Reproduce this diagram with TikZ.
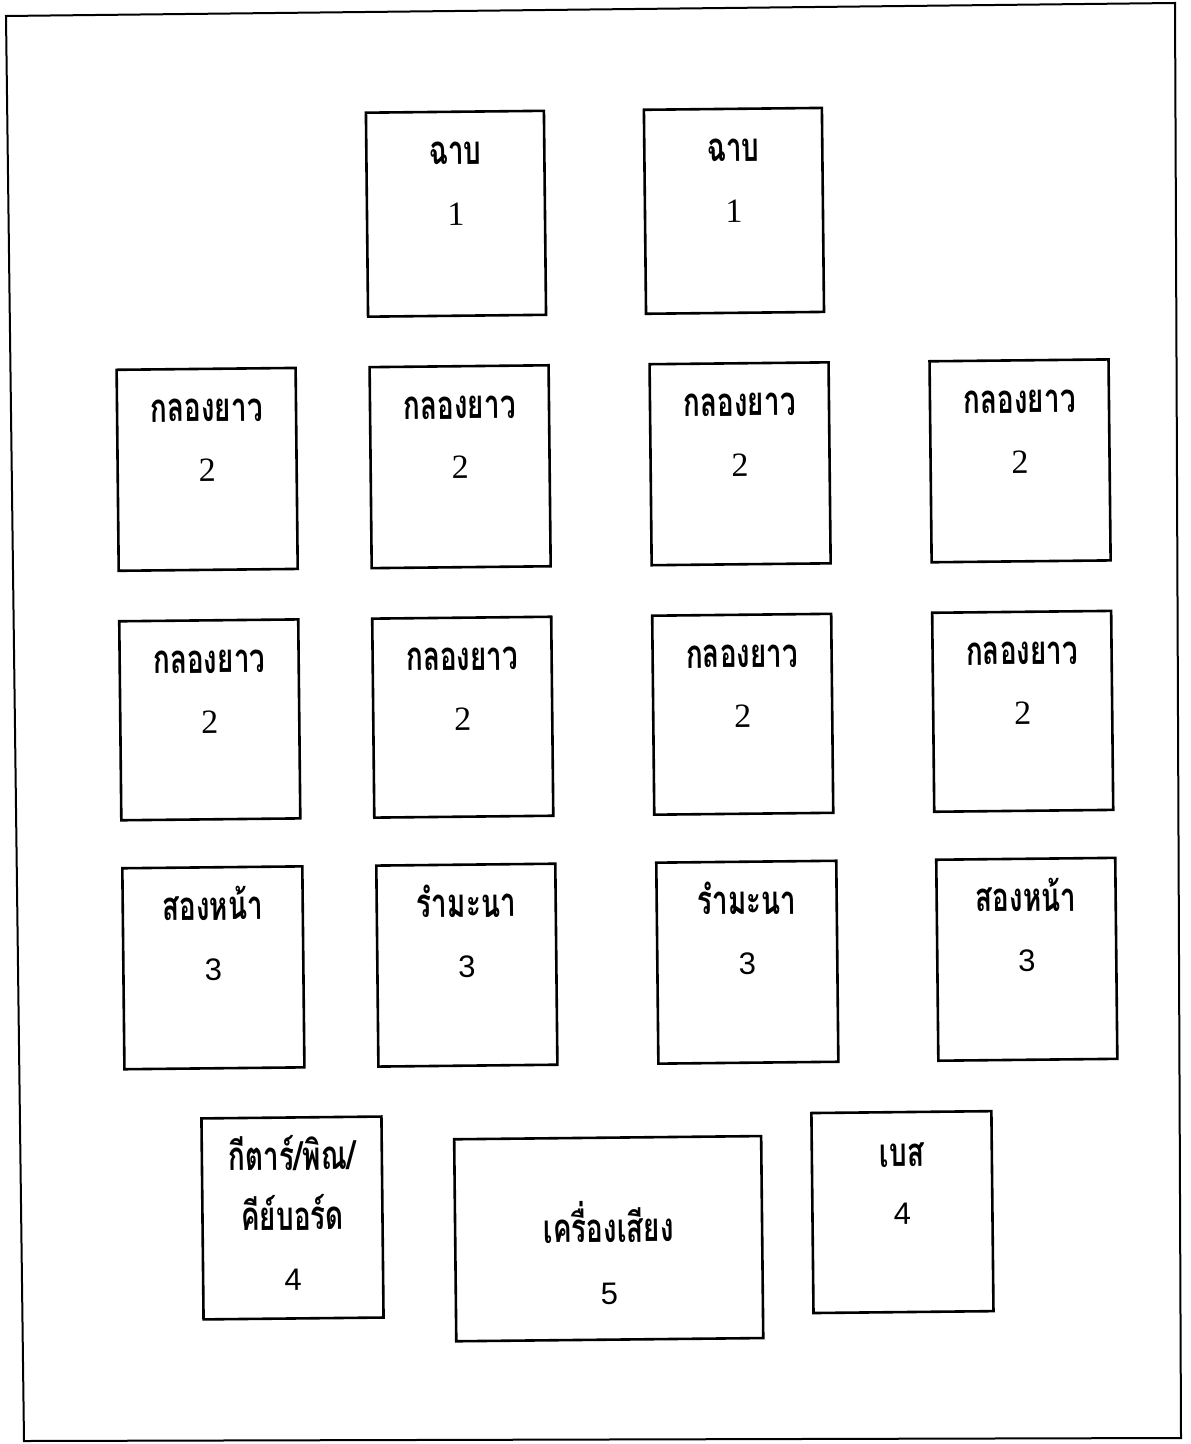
\documentclass[tikz,border=0pt]{standalone}
\usepackage{fontspec}
\setmainfont{Liberation Serif}
\newfontfamily\thaifont[Script=Thai,FakeStretch=0.7]{Loma}
\newfontfamily\digsans{Liberation Sans}
\begin{document}
\begin{tikzpicture}[x=0.5pt,y=-0.5pt,
  inst/.style={draw, line width=1.3pt, minimum width=89.5pt, minimum height=100.5pt,
    inner sep=0pt, anchor=north west, transform shape},
  frameline/.style={draw, line width=1pt, line join=miter},
  lab/.style={font=\thaifont\bfseries\fontsize{20}{22}\selectfont, inner sep=0pt, anchor=base, transform shape},
  numserif/.style={font=\fontsize{17}{19}\selectfont, inner sep=0pt, anchor=base, transform shape},
  numsans/.style={font=\digsans\fontsize{15.5}{17}\selectfont, inner sep=0pt, anchor=base, transform shape}]
\useasboundingbox (0,0) rectangle (1190,1444);
% outer frame
\coordinate (ftl) at (6,16);
\coordinate (ftr) at (1175,3);
\coordinate (fbr) at (1181,1438);
\coordinate (fbl) at (24,1441);
\draw[frameline] (ftl) -- (ftr) -- (fbr) -- (fbl) -- cycle;
\begin{scope}[rotate around={0.6:(595,722)}]
% row 1
\node[inst, minimum width=89pt, minimum height=102pt] (c1) at (371,109) {};
\node[inst, minimum width=89pt, minimum height=102pt] (c2) at (649,109) {};
\node[lab] (c1l) at ([yshift=-27pt]c1.north) {ฉาบ};
\node[numserif] (c1n) at ([yshift=-57.5pt]c1.north) {1};
\node[lab] (c2l) at ([yshift=-27pt]c2.north) {ฉาบ};
\node[numserif] (c2n) at ([yshift=-57.5pt]c2.north) {1};
% row 2
\node[inst] (k1) at (119,363.5) {};
\node[inst] (k2) at (372,363.5) {};
\node[inst] (k3) at (652,363.5) {};
\node[inst] (k4) at (932,363.5) {};
% row 3
\node[inst, minimum height=99.5pt] (k5) at (119,615) {};
\node[inst, minimum height=99.5pt] (k6) at (372,615) {};
\node[inst, minimum height=99.5pt] (k7) at (652,615) {};
\node[inst, minimum height=99.5pt] (k8) at (932,615) {};
\foreach \k in {k1,k2,k3,k4,k5,k6,k7,k8}{
  \node[lab] (\k l) at ([yshift=-27pt]\k.north) {กลองยาว};
  \node[numserif] (\k n) at ([yshift=-57pt]\k.north) {2};
}
% row 4
\node[inst, minimum width=90pt] (d1) at (119.5,862) {};
\node[inst] (r1) at (373.5,862) {};
\node[inst, minimum width=90pt] (r2) at (653.5,862) {};
\node[inst] (d2) at (933.5,862) {};
\node[lab] (d1l) at ([yshift=-27pt]d1.north) {สองหน้า};
\node[numsans] (d1n) at ([yshift=-57pt]d1.north) {3};
\node[lab] (r1l) at ([yshift=-27pt]r1.north) {รำมะนา};
\node[numsans] (r1n) at ([yshift=-57pt]r1.north) {3};
\node[lab] (r2l) at ([yshift=-27pt]r2.north) {รำมะนา};
\node[numsans] (r2n) at ([yshift=-57pt]r2.north) {3};
\node[lab] (d2l) at ([yshift=-27pt]d2.north) {สองหน้า};
\node[numsans] (d2n) at ([yshift=-57pt]d2.north) {3};
% row 5
\node[inst, minimum width=90pt] (g) at (196,1113) {};
\node[lab] (gl1) at ([yshift=-27pt]g.north) {กีตาร์/พิณ/};
\node[lab] (gl2) at ([yshift=-57pt]g.north) {คีย์บอร์ด};
\node[numsans] (gn) at ([yshift=-87pt]g.north) {4};
\node[inst, minimum width=153.5pt, minimum height=101pt] (s) at (448.5,1136.5) {};
\node[lab] (sl) at ([yshift=-53pt]s.north) {เครื่องเสียง};
\node[numsans] (sn) at ([yshift=-84pt]s.north) {5};
\node[inst, minimum width=90pt, minimum height=100pt] (b) at (806,1114) {};
\node[lab] (bl) at ([yshift=-28pt]b.north) {เบส};
\node[numsans] (bn) at ([yshift=-57pt]b.north) {4};
\end{scope}
\end{tikzpicture}
\end{document}
